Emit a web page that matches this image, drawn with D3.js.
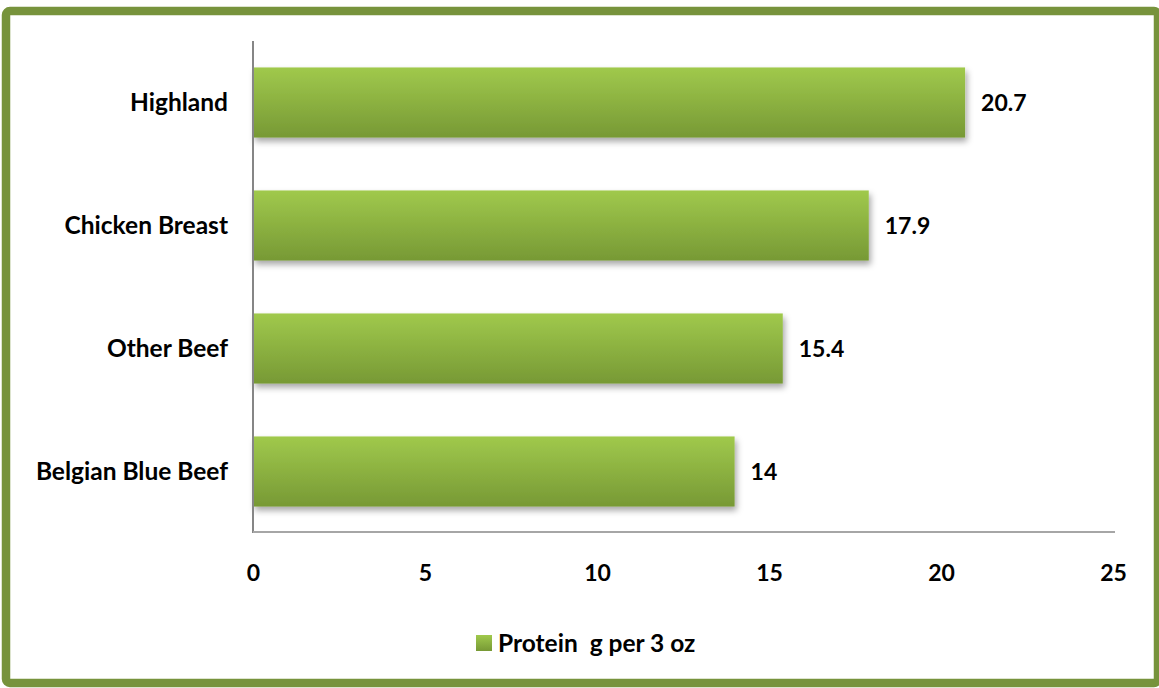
<!DOCTYPE html>
<html><head><meta charset="utf-8">
<script src="https://cdn.jsdelivr.net/npm/d3@7"></script>
<style>
html,body{margin:0;padding:0;background:#fff;}
svg{display:block;}
text{font-family:Lato,"Open Sans",sans-serif;font-weight:bold;fill:#000;}
</style></head>
<body><svg id="chart" width="1159" height="688"></svg>
<script>
const categories = ["Highland","Chicken Breast","Other Beef","Belgian Blue Beef"];
const values = [20.7, 17.9, 15.4, 14];
const valueLabels = ["20.7","17.9","15.4","14"];
const xTicks = [0,5,10,15,20,25];
const seriesName = "Protein  g per 3 oz";

const svg = d3.select("#chart");
const defs = svg.append("defs");
const grad = defs.append("linearGradient").attr("id","barGrad").attr("x1",0).attr("y1",0).attr("x2",0).attr("y2",1);
grad.append("stop").attr("offset","0%").attr("stop-color","#a0c94c");
grad.append("stop").attr("offset","100%").attr("stop-color","#779935");
const f = defs.append("filter").attr("id","shadow").attr("x","-10%").attr("y","-20%").attr("width","130%").attr("height","160%");
f.append("feDropShadow").attr("dx",2).attr("dy",4).attr("stdDeviation",3).attr("flood-color","#000").attr("flood-opacity",0.35);

// frame
svg.append("rect").attr("x",6).attr("y",11).attr("width",1152).attr("height",672)
  .attr("rx",4).attr("fill","none").attr("stroke","#77933c").attr("stroke-width",8.5);

const pLeft = 253, pRight = 1113, pTop = 41, pBottom = 533;
const x = d3.scaleLinear().domain([0,25]).range([pLeft,pRight]);
const y = d3.scaleBand().domain(categories).range([pTop,pBottom]).paddingInner(0.43).paddingOuter(0.215);

// bars
svg.append("g").selectAll("rect").data(values).join("rect")
  .attr("x",x(0)).attr("y",(d,i)=>y(categories[i]))
  .attr("width",d=>x(d)-x(0)).attr("height",y.bandwidth())
  .attr("fill","url(#barGrad)").attr("filter","url(#shadow)");

// axes lines
svg.append("line").attr("x1",pLeft).attr("x2",pLeft).attr("y1",pTop).attr("y2",pBottom)
  .attr("stroke","#868686").attr("stroke-width",2);
svg.append("line").attr("x1",pLeft).attr("x2",1115).attr("y1",pBottom-1).attr("y2",pBottom-1)
  .attr("stroke","#a6a6a6").attr("stroke-width",2);

// category labels
const yAxis = d3.axisLeft(y).tickSize(0).tickPadding(25);
const gy = svg.append("g").attr("transform",`translate(${pLeft},0)`).call(yAxis);
gy.select(".domain").remove();
gy.selectAll("text").style("font-size","24.5px").attr("font-family",null).attr("dy","0.35em");

// x tick labels
const xAxis = d3.axisBottom(x).tickValues(xTicks).tickSize(0).tickPadding(32).tickFormat(d3.format("d"));
const gx = svg.append("g").attr("transform",`translate(0,${pBottom})`).call(xAxis);
gx.select(".domain").remove();
gx.selectAll("text").style("font-size","23px").attr("font-family",null);

// value labels
svg.append("g").selectAll("text").data(values).join("text")
  .attr("x",d=>x(d)+16).attr("y",(d,i)=>y(categories[i])+y.bandwidth()/2)
  .attr("dy","0.35em").style("font-size","23px").text((d,i)=>valueLabels[i]);

// legend
const lg = svg.append("g");
lg.append("rect").attr("x",476).attr("y",635).attr("width",16).attr("height",16).attr("fill","url(#barGrad)");
lg.append("text").attr("x",498).attr("y",643).attr("dy","0.35em").style("font-size","24.5px")
  .style("white-space","pre").attr("xml:space","preserve").text(seriesName);
</script></body></html>
